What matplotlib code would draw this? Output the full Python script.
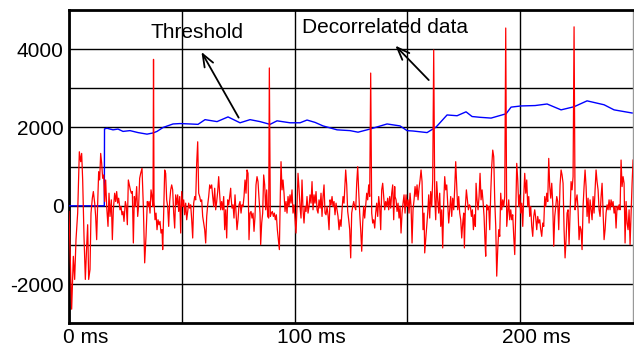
import matplotlib
matplotlib.use("Agg")
import matplotlib.pyplot as plt
import matplotlib.transforms as mtransforms

plt.rcParams['font.family'] = ['Liberation Sans', 'DejaVu Sans']

# ---- data (time in ms, amplitude) ----
red_t = [0.00, 1.18, 1.92, 2.51, 3.10, 3.84, 4.58, 5.17, 5.61, 6.06, 6.65, 7.24, 7.83, 8.27, 8.72, 9.31, 9.75,
         10.34, 10.79, 11.38, 11.82, 12.26, 12.71, 13.15, 13.59, 14.04, 14.48, 14.92, 15.37, 15.81, 16.25, 16.70,
         17.29, 17.73, 18.17, 18.76, 19.21, 19.65, 20.24, 20.69, 21.13, 21.57, 22.01, 22.61, 23.05, 23.49, 23.94,
         24.38, 24.97, 25.41, 25.86, 26.30, 26.74, 27.19, 27.63, 28.07, 28.52, 28.96, 29.40, 29.99, 30.44, 30.88,
         31.32, 31.77, 32.36, 32.95, 33.54, 34.13, 34.72,
         35.02, 35.46, 35.91, 36.35, 36.79, 37.24, 37.46, 37.68, 38.12, 38.57, 39.01, 39.45, 39.90, 40.34, 40.78,
         41.23, 41.52, 41.96, 42.41, 42.85, 43.29, 43.74, 44.18, 44.62, 45.07, 45.51, 45.95, 46.40, 46.84, 47.28,
         47.73, 48.17, 48.61, 49.06, 49.50, 49.94, 50.39, 50.83, 51.27, 51.72, 52.16, 52.60, 53.05, 53.49, 53.93,
         54.38, 54.82, 55.26, 55.71, 56.15, 56.59, 57.04, 57.48, 57.92, 58.37, 58.81, 59.25, 59.70, 60.14, 60.58,
         61.03, 61.47, 61.91, 62.36, 62.80, 63.24, 63.69, 64.13, 64.57, 65.01, 65.46, 65.90, 66.34, 66.79, 67.23,
         67.67, 68.12, 68.56, 69.00, 69.45, 69.89, 70.33, 70.78, 71.22, 71.66,
         71.80, 72.25, 72.69, 73.13, 73.58, 74.02, 74.46, 74.91, 75.35, 75.79, 76.24, 76.68, 77.12, 77.57, 78.01,
         78.45, 78.90, 79.34, 79.78, 80.23, 80.67, 81.11, 81.56, 82.00, 82.44, 82.88, 83.33, 83.77, 84.21, 84.66,
         84.95, 85.40, 85.84, 86.28, 86.73, 87.17, 87.61, 88.06, 88.50, 88.79, 89.24, 89.68, 90.12, 90.57, 91.01,
         91.45, 91.90, 92.34, 92.78, 93.23, 93.67, 93.97, 94.41, 94.85, 95.30, 95.74, 96.18, 96.63, 97.07, 97.51,
         97.96, 98.40, 98.84, 99.29, 99.73, 100.17, 100.61, 101.06, 101.50, 101.94, 102.39, 102.83, 103.27,
         103.72, 104.16, 104.60, 105.05, 105.49, 105.93, 106.38, 106.82, 107.26, 107.71, 108.15,
         108.60, 109.04, 109.48, 109.93, 110.37, 110.81, 111.26, 111.70, 112.14, 112.59, 113.03, 113.47, 113.92,
         114.36, 114.80, 115.25, 115.69, 116.13, 116.58, 117.02, 117.46, 117.90, 118.35, 118.79, 119.23, 119.68,
         120.12, 120.56, 121.01, 121.45, 121.89, 122.34, 122.63, 123.08, 123.52, 123.96, 124.41, 124.85, 125.29,
         125.74, 126.18, 126.62, 127.07, 127.51, 127.95, 128.40, 128.84, 129.28, 129.73, 130.17, 130.61, 131.05,
         131.50, 131.94, 132.38, 132.83, 133.27, 133.71, 134.16, 134.60, 135.04, 135.49, 135.93, 136.37, 136.82,
         137.26, 137.70, 138.15, 138.59, 139.03, 139.48, 139.92, 140.36, 140.81, 141.25, 141.69, 142.14, 142.58,
         143.02, 143.47, 143.91, 144.35,
         144.50, 144.95, 145.39, 145.83, 146.28, 146.72, 147.16, 147.61, 148.05, 148.49, 148.94, 149.38, 149.82,
         150.27, 150.71, 151.15, 151.60, 152.04, 152.48, 152.93, 153.37, 153.81, 154.26, 154.70, 155.14, 155.59,
         156.03, 156.47, 156.91, 157.36, 157.65, 158.10, 158.54, 158.98, 159.43, 159.87, 160.31, 160.76, 161.20,
         161.64, 162.09, 162.53, 162.97, 163.42, 163.86, 164.30, 164.75, 165.19, 165.63, 166.08, 166.52, 166.96,
         167.41, 167.85, 168.29, 168.73, 169.18, 169.62, 170.06, 170.51, 170.95, 171.39, 171.84, 172.28, 172.72,
         173.17, 173.61, 174.05, 174.50, 174.94, 175.24, 175.68, 176.12, 176.57, 177.01, 177.45, 177.90, 178.34,
         178.78, 179.23, 179.67, 180.11,
         180.41, 180.85, 181.30, 181.74, 182.18, 182.63, 183.07, 183.51, 183.96, 184.40, 184.69, 185.14, 185.58,
         186.02, 186.47, 186.91, 187.35, 187.80, 188.24, 188.68, 189.13, 189.57, 190.01, 190.46, 190.90, 191.34,
         191.79, 192.23, 192.67, 193.12, 193.56, 194.00, 194.45, 194.89, 195.33, 195.78, 196.22, 196.66, 197.11,
         197.55, 197.99, 198.44, 198.88, 199.32, 199.77, 200.21, 200.65, 201.10, 201.54, 201.98, 202.43, 202.87,
         203.31, 203.76, 204.20, 204.64, 205.08, 205.53, 205.97, 206.41, 206.86, 207.30, 207.74, 208.19, 208.63,
         209.07, 209.52, 209.96, 210.40, 210.85, 211.29, 211.73, 212.18, 212.62, 213.06, 213.51, 213.95, 214.39,
         214.84, 215.28, 215.72, 216.17, 216.61, 217.05,
         217.64, 218.09, 218.53, 218.97, 219.42, 219.86, 220.30, 220.75, 221.19, 221.63, 222.08, 222.52, 222.96,
         223.41, 223.85, 224.29, 224.74, 225.18, 225.62, 226.06, 226.51, 226.95, 227.39, 227.84, 228.28, 228.72,
         229.17, 229.61, 230.05, 230.50, 230.94, 231.38, 231.83, 232.27, 232.71, 233.16, 233.60, 234.04, 234.49,
         234.93, 235.37, 235.82, 236.26, 236.70, 237.15, 237.59, 238.03, 238.48, 238.92, 239.36, 239.80, 240.25,
         240.69, 241.13, 241.58, 242.02, 242.46, 242.91, 243.35, 243.79, 244.24, 244.68, 245.12, 245.57, 246.01,
         246.45, 246.90, 247.34, 247.78, 248.23, 248.67, 249.11, 249.56, 250.00]

red_v = [-144, -2640, -1290, -1880, -864, -186, 1380, 1127, 1338, 660, -780, -1880, -1033, -483, -1880, -1626, -186,
         195, 364, 68, -271, -864, 68, 872, 660, 1338, 1084, 703, 788, 110, 660, -17,
         -525, 322, -271, 152, -864, -102, 322, 110, 364, 68, 195, -102, -17, -229, -144,
         -398, 110, -17, -483, 660, 534, 407, 322, 364, -949, 237, -17, 491, -271, 25,
         703, 830, 957, -17, -1457, -780, 110,
         -17, 110, -186, 407, 237, -17, 3740, 110, -356, -186, -610, -356, -483, -398, -695,
         -610, -1118, -186, 915, 830, 152, -17, -525, 110, 407, 534, 407, -186, -568, 280,
         25, 280, -144, 237, -695, 364, -17, 152, -229, 68, -356, -144, 68, -59, 25,
         -356, -822, 68, 237, 152, 1084, 1635, 322, 237, 110, 152, -271, -440, -610, -949,
         -271, 25, 237, 534, 449, 534, 237, -17, 449, -102, 110, 364, 745, 280, -102,
         110, -102, 237, -610, -102, -822, 152, 25, 237, 449,
         237, -59, 25, -313, 280, -186, -610, -356, 25, 110, -186, 25, -17, 237, 660,
         322, 915, 830, -864, -186, -144, -313, -186, -652, -271, 534, 745, 618, 195, -186,
         -991, -440, -186, 788, 534, -102, 407, -271, -313, 3520, -271, -186, -144, -271, -186,
         -356, -229, -610, -864, -1118, 322, 1127, 407, 660, 322, -144, 110, -186, 237, -17,
         280, 68, 407, -186, 25, -356, -695, -17, 830, 449, -17, -313, 660,
         -102, -440, -17, -144, 237, -186, -17, 280, 68, 618, -102,
         280, 68, 364, -102, -186, 152, -59, 322, -271, 237, 534, -186, -229,
         -17, -229, -610, 152, 25, 237, -17, 110, -229, 68, -102, -271, -610,
         -356, -525, -102, 237, 68, 618, 915, 534, -144, -356, -610, -1330, -186,
         -17, 110, -17, -102, 576, 1000, 364, -186, -610, -1160, -440, -17, -313,
         25, 322, 152, 534, 237, 3390, -186, -440, -356, -568, -186, 68, -271,
         237, -17, -610, 407, 576, 237, -102, 110, -17, 195, -102, 237, -59,
         322, 534, -356, 491,
         237, 152, -144, 68, -313, -17, -695, -186, 68, 280, -186, 280, -17,
         152, -186, 322, -17, -949, -102, 152, 491, 237, 534, 152, 449, 660,
         915, 618, -610, -186, -1203, -864, -525, -186, 280, -313, 364, -17, 660,
         3980, 237, -356, 618, 152, -186, 322, -525, -102, -1075, 68, 745, 407,
         534, 25, -440, -102, 237, -271, 195, -102, 449, 1127, 491, -102, 237,
         -186, -356, -822, -440, -186, -1075, -17, 407, 152, -102, 25, -17, -271,
         -102, -610, -229, -525,
         576, 152, -102, 237, 830, 152, 407, 110, -271, -949, -1287, 25, -102,
         -17, -610, 322, 1000, 1423, 1254, 152, -525, -1796, -1118, -610, -780, 322,
         -102, 152, -17, 237, 4540, -525, -186, 152, -356, -102, -356, -229, -780,
         -1245, -186, 1084, 660, -17, 280, -186, 68, -525, 237, 830, 322, 660,
         -17, 237, -271, -17, -525, -780, -271, -102, -313, -610, -271, -440, -356,
         -610, -780, -440, -525, 237, -17, 322, 110, 1211, 491, 195, 576, 68,
         -1033, -271, -17, 237, 110, -610,
         534, 915, 788, 576, -610, -1330, -864, -186, -102, -991, -186, 618, 407,
         745, 4570, -102, 152, 280, -102, -864, -525, -610, -1118, -17, 491, 915,
         491, -271, 195, -440, 152, -102, -356, 237, -186, 407, 915, 618, 407,
         -102, -271, 237, 576, -102, -864, -610, -186, 25, -102, 152, -102, 152,
         -17, 110, -186, -17, -568, -17, -102, 25, -102, 1169, 491, 745, 576,
         -949, 110, -440, -610, -102, -991, -186, 576, 1169]

blue_t = [0.00, 15.65, 15.74, 16.84, 19.50, 21.72, 23.94, 27.04, 30.59, 34.57, 37.23, 39.01, 41.67, 46.10,
          49.20, 53.64, 57.18, 60.29, 65.61, 70.48, 75.80, 80.24, 84.67, 89.10, 92.20, 97.97, 102.40, 105.50,
          109.05, 112.60, 118.80, 124.56, 128.10, 133.42, 140.96, 146.72, 149.82, 152.48, 158.69, 162.68,
          167.56, 171.99, 175.97, 178.64, 182.19, 187.06, 193.71, 195.93, 200.36, 206.57, 211.89, 218.09,
          223.85, 229.61, 237.15, 241.58, 249.56]
blue_v = [0, 0, 1965, 1980, 1940, 1960, 1900, 1920, 1870, 1830, 1860, 1900, 2000, 2090,
          2100, 2090, 2080, 2200, 2150, 2270, 2120, 2200, 2150, 2080, 2170, 2120, 2120, 2190,
          2130, 2040, 1940, 1920, 1880, 1960, 2090, 2040, 1920, 1910, 1870, 2010,
          2320, 2300, 2400, 2280, 2260, 2240, 2350, 2520, 2550, 2560, 2600, 2450,
          2530, 2680, 2580, 2450, 2370]

x_ticks = [0, 50, 100, 150, 200]
x_labels = ['0 ms', '', '100 ms', '', '200 ms']
y_ticks = [-2000, -1000, 0, 1000, 2000, 3000, 4000]
y_labels = ['-2000', '', '0', '', '2000', '', '4000']

fig = plt.figure(figsize=(6.34, 3.49), dpi=100)
ax = fig.add_axes([69 / 634, 1 - 323.3 / 349, (633.3 - 69) / 634, (323.3 - 10) / 349])

ax.set_xlim(0, 250.1)
ax.set_ylim(-3000, 5000)

ax.set_xticks(x_ticks)
ax.set_xticklabels(x_labels)
ax.set_yticks(y_ticks)
ax.set_yticklabels(y_labels)
ax.tick_params(axis='both', length=0, labelsize=15, colors='black')
ax.tick_params(axis='x', pad=3.5)
ax.tick_params(axis='y', pad=4)
offset = mtransforms.ScaledTranslation(16.5 / 100, 0, fig.dpi_scale_trans)
for lab in ax.get_xticklabels():
    lab.set_transform(lab.get_transform() + offset)

ax.grid(True, color='black', linewidth=1.0)
ax.set_axisbelow(True)
for s in ['left', 'bottom', 'top']:
    ax.spines[s].set_linewidth(2.0)
    ax.spines[s].set_color('black')
ax.spines['right'].set_linewidth(1.0)
ax.spines['right'].set_color('#999999')

ax.plot(blue_t, blue_v, color='#0000ff', linewidth=1.0, zorder=3)
ax.plot(red_t, red_v, color='#ff0000', linewidth=0.9, zorder=4)

arrow_kw = dict(arrowstyle='->,head_length=0.9,head_width=0.35', color='black', lw=1.3)
ax.annotate('', xy=(58.1, 3990), xytext=(75.8, 2190), arrowprops=arrow_kw, zorder=5)
ax.annotate('', xy=(143.8, 4140), xytext=(160.3, 3160), arrowprops=arrow_kw, zorder=5)
ax.text(56.9, 4430, 'Threshold', fontsize=15, ha='center', va='center', zorder=6)
ax.text(140.1, 4560, 'Decorrelated data', fontsize=15, ha='center', va='center', zorder=6)

fig.savefig('out.png', dpi=100)
